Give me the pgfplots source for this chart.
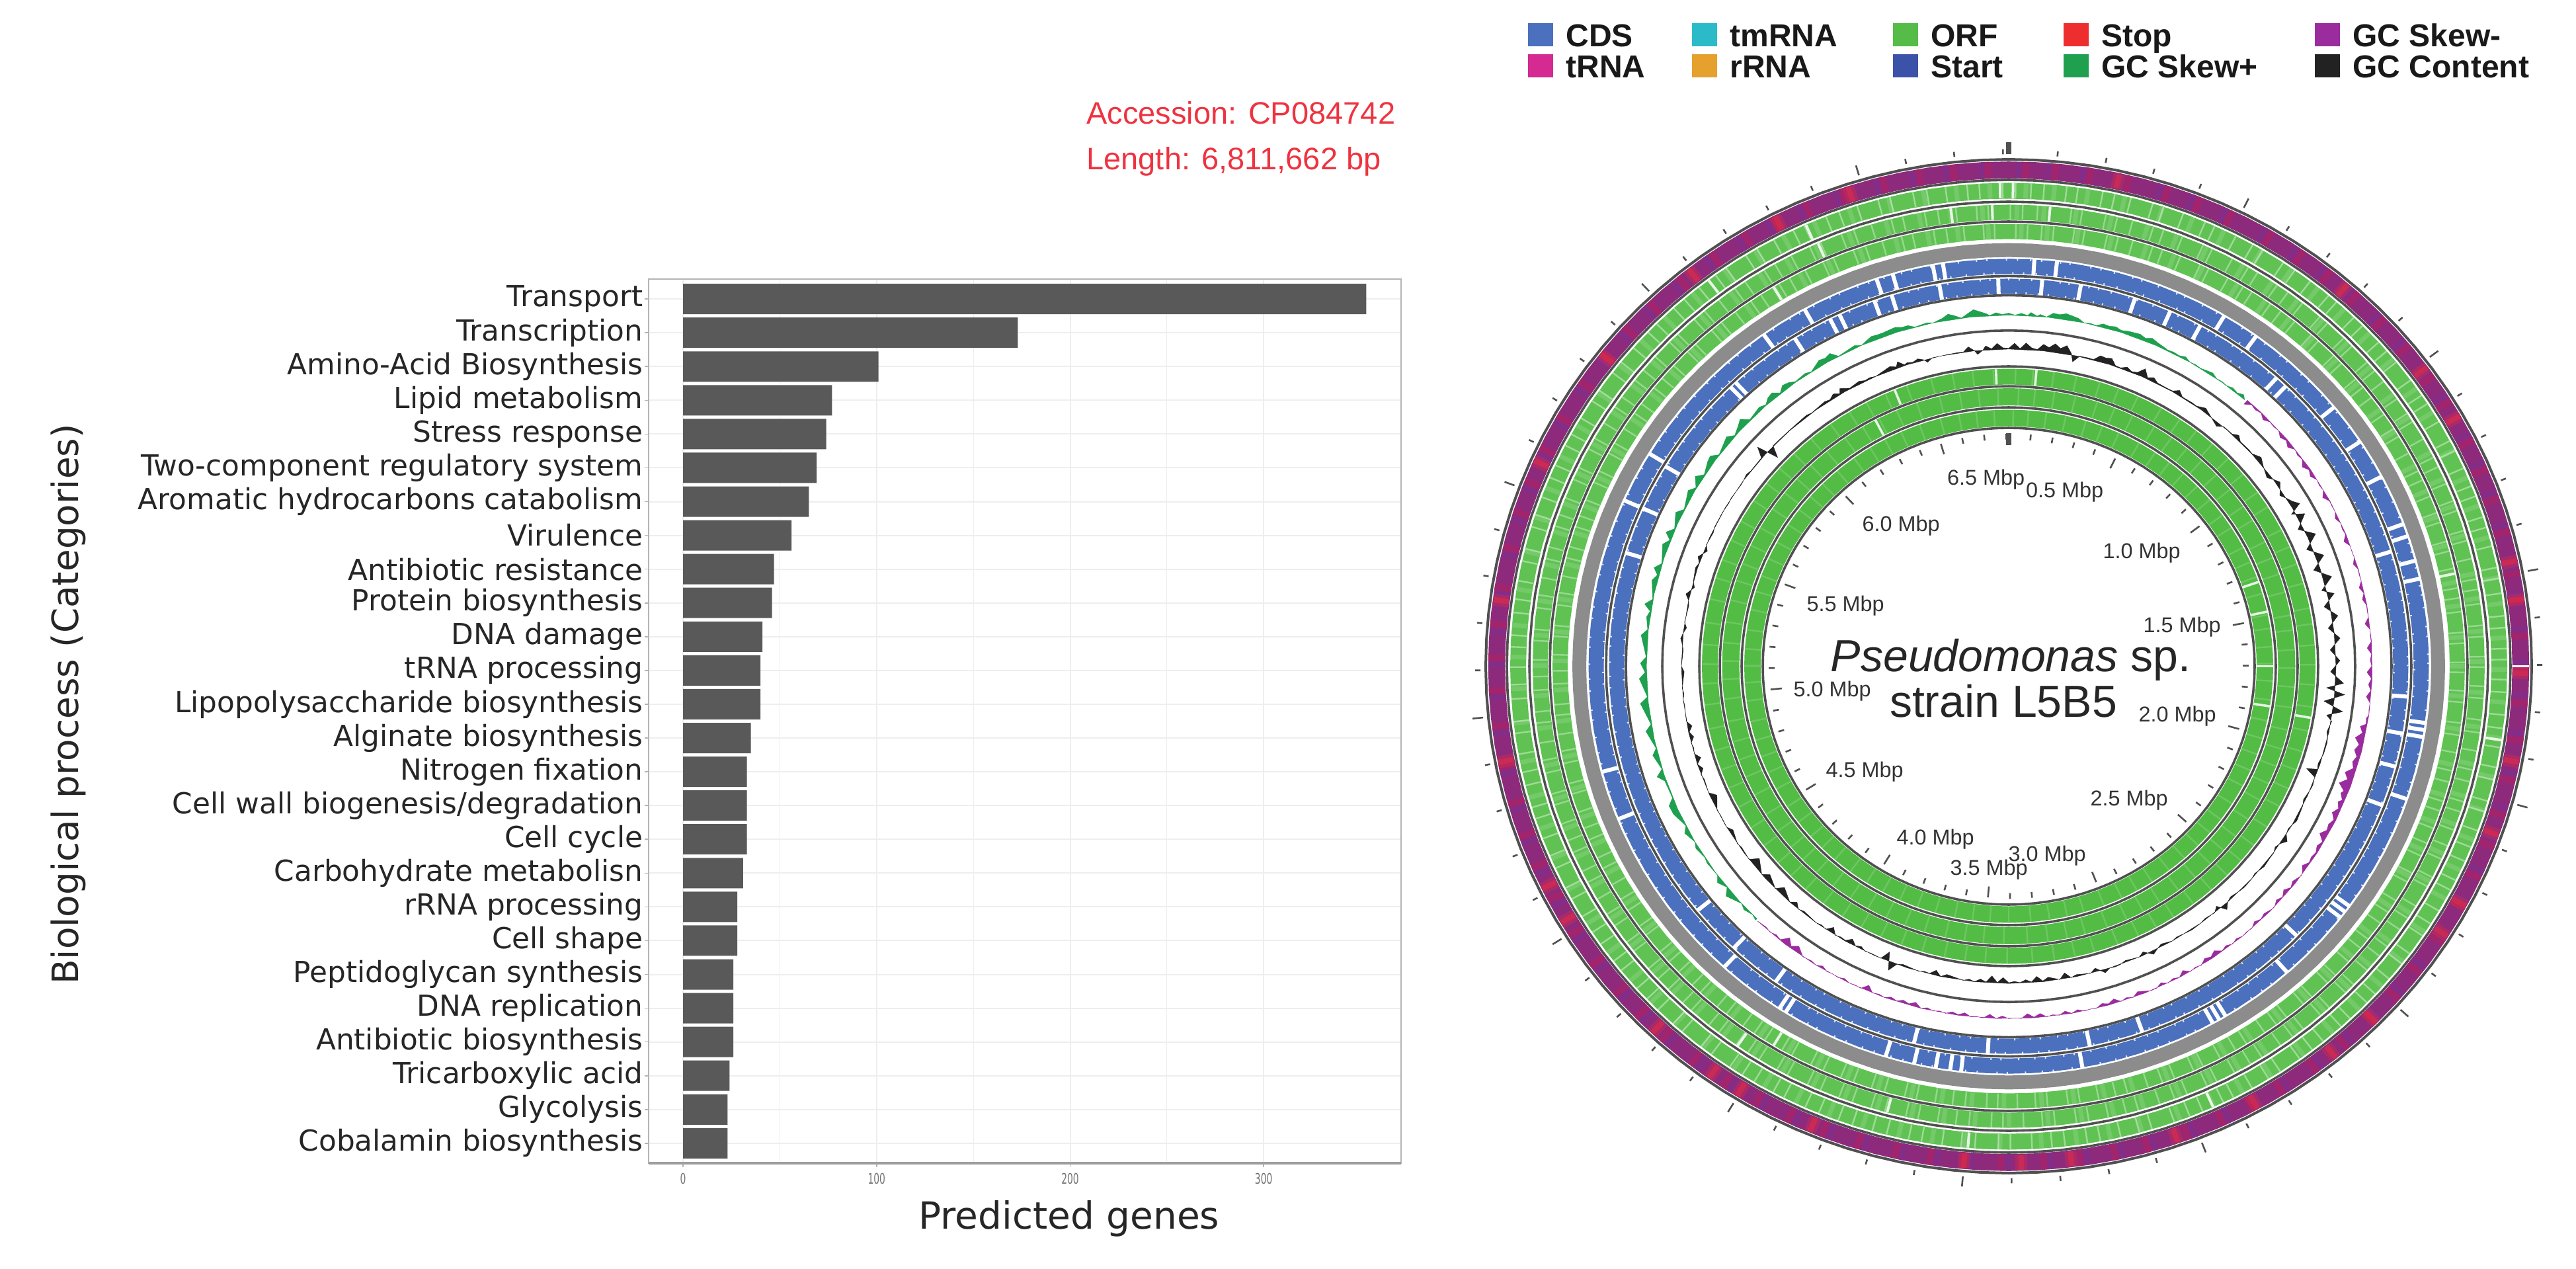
\documentclass[border=0pt]{standalone}
\usepackage{fontspec}
\usepackage{pgfplots}
\usepackage{pgfplotstable}
\pgfplotsset{compat=1.18}
\setmainfont{DejaVu Sans}
\newfontfamily\arial{Liberation Sans}

\definecolor{barg}{HTML}{595959}
\definecolor{gridg}{HTML}{EEEEEE}
\definecolor{boxg}{HTML}{B4B4B4}
\definecolor{lineg}{HTML}{505050}
\definecolor{ringg}{HTML}{8C8C8C}
\definecolor{orfa}{HTML}{60C253}
\definecolor{orfb}{HTML}{53BC45}
\definecolor{cds}{HTML}{4A70BE}
\definecolor{tmrna}{HTML}{2BBBC8}
\definecolor{orf}{HTML}{55BC48}
\definecolor{stopc}{HTML}{EE2E2E}
\definecolor{trna}{HTML}{D42A92}
\definecolor{rrna}{HTML}{E5A02E}
\definecolor{startc}{HTML}{3B52A8}
\definecolor{skewp}{HTML}{1EA04E}
\definecolor{skewm}{HTML}{9A2C9E}
\definecolor{gcc}{HTML}{222222}
\definecolor{redt}{HTML}{EE3340}
\definecolor{ringp}{HTML}{8E2A7C}
\definecolor{ringv}{HTML}{6F35A5}
\definecolor{ringm}{HTML}{B3205F}
\definecolor{ringr}{HTML}{E02A45}

% angles of the closed rings, clockwise from the top
\pgfplotstableread[row sep=\\]{a\\0\\3\\6\\9\\12\\15\\18\\21\\24\\27\\30\\33\\36\\39\\42\\45\\48\\51\\54\\57\\60\\63\\66\\69\\72\\75\\78\\81\\84\\87\\90\\93\\96\\99\\102\\105\\108\\111\\114\\117\\120\\123\\126\\129\\132\\135\\138\\141\\144\\147\\150\\153\\156\\159\\162\\165\\168\\171\\174\\177\\180\\183\\186\\189\\192\\195\\198\\201\\204\\207\\210\\213\\216\\219\\222\\225\\228\\231\\234\\237\\240\\243\\246\\249\\252\\255\\258\\261\\264\\267\\270\\273\\276\\279\\282\\285\\288\\291\\294\\297\\300\\303\\306\\309\\312\\315\\318\\321\\324\\327\\330\\333\\336\\339\\342\\345\\348\\351\\354\\357\\360\\363\\}\angles

% pale stripes in the ORF rings
\pgfplotstableread[row sep=\\]{a\\0.8\\2.6\\4.1\\6.7\\8.0\\10.9\\12.3\\14.2\\16.8\\18.1\\20.5\\23.2\\24.4\\27.1\\29.3\\30.6\\33.4\\35.0\\37.2\\39.9\\41.1\\43.8\\45.2\\47.9\\49.3\\51.0\\53.7\\55.9\\57.1\\59.6\\62.2\\63.5\\65.8\\68.1\\69.4\\72.0\\73.3\\75.6\\78.2\\79.5\\81.3\\84.0\\85.4\\87.9\\89.2\\91.6\\93.1\\95.8\\97.4\\99.7\\102.1\\103.6\\106.2\\107.5\\109.9\\112.0\\113.8\\116.3\\117.6\\120.4\\122.2\\123.9\\126.5\\128.0\\130.3\\132.7\\134.1\\136.8\\138.2\\140.9\\142.5\\144.3\\147.0\\148.6\\150.8\\153.2\\154.5\\157.1\\158.7\\160.6\\163.3\\164.8\\167.0\\169.4\\170.9\\173.5\\175.0\\177.3\\179.8\\181.2\\183.9\\185.5\\187.7\\190.1\\191.6\\194.2\\195.9\\198.3\\200.0\\202.4\\204.1\\206.8\\208.2\\210.7\\212.3\\214.0\\216.6\\218.1\\220.9\\222.3\\224.7\\226.5\\228.2\\231.0\\232.4\\234.9\\236.6\\238.8\\241.2\\242.7\\245.3\\246.9\\249.1\\251.6\\253.0\\255.7\\257.3\\259.5\\262.0\\263.4\\266.1\\267.8\\269.9\\272.3\\273.7\\276.4\\278.0\\280.2\\282.6\\284.1\\286.8\\288.3\\290.5\\293.0\\294.6\\297.2\\298.7\\300.9\\303.3\\304.8\\307.4\\309.0\\311.2\\313.7\\315.1\\317.8\\319.4\\321.6\\324.0\\325.5\\328.2\\329.7\\331.9\\334.4\\335.8\\338.5\\340.1\\342.3\\344.8\\346.2\\348.9\\350.5\\352.7\\355.2\\356.6\\359.3\\}\stripes

% bright gaps, ring by ring
\pgfplotstableread[row sep=\\]{a\\359\\0.5\\98.8\\155.8\\184.7\\323\\336\\}\gapsix
\pgfplotstableread[row sep=\\]{a\\5\\358\\353\\336.4\\194.8\\214.7\\}\gapfive
\pgfplotstableread[row sep=\\]{a\\329\\77.9\\211\\}\gapfour
\pgfplotstableread[row sep=\\]{a\\100\\357.6\\5.2\\338.2\\}\gapthree
\pgfplotstableread[row sep=\\]{a\\332.3\\}\gaptwo
\pgfplotstableread[row sep=\\]{a\\99\\77.7\\70.8\\90\\}\gapone
\pgfplotstableread[row sep=\\]{a\\3.5\\6.6\\30.8\\36\\50.6\\56.6\\62.3\\69.6\\71.4\\75\\77.6\\98\\99\\100\\109\\126\\127\\128\\138.6\\149\\150\\151\\169.9\\186.5\\188\\190\\193\\197\\212\\213\\222.5\\248\\255\\294\\301.4\\324.4\\331\\341.7\\344\\349.6\\351\\}\gapcdsb
\pgfplotstableread[row sep=\\]{a\\358.5\\4.8\\10.4\\18.4\\23.8\\28.6\\42\\43.8\\72.8\\94.5\\100\\105\\111\\134\\160.5\\168.3\\183\\193.7\\215.6\\223.4\\231\\287\\294\\301\\316\\317\\327.7\\333.5\\335\\340.4\\343\\350\\}\gapcdsa
\pgfplotstableread[row sep=\\]{a\\12.3\\40.7\\53.6\\60.2\\77.9\\82.3\\90.8\\101\\109.6\\118.4\\122.4\\135\\141\\151.4\\161\\173\\178.6\\185\\202.5\\211.5\\215.2\\223.3\\239.4\\243.8\\259\\277.6\\294.1\\308.3\\322\\333.3\\342\\}\redpatch

% tick marks of the two scales, 0.1 Mbp apart
\pgfplotstableread[row sep=\\]{a\\5.29\\10.57\\15.86\\21.14\\31.71\\37\\42.28\\47.57\\58.14\\63.42\\68.71\\73.99\\84.56\\89.85\\95.13\\100.42\\110.99\\116.27\\121.56\\126.84\\137.41\\142.7\\147.98\\153.27\\163.84\\169.12\\174.41\\179.69\\190.26\\195.55\\200.83\\206.12\\216.69\\221.97\\227.26\\232.54\\243.11\\248.4\\253.68\\258.97\\269.54\\274.82\\280.11\\285.39\\295.96\\301.25\\306.53\\311.82\\322.39\\327.67\\332.96\\338.24\\348.81\\354.1\\359.38\\}\minorticks
\pgfplotstableread[row sep=\\]{a\\26.43\\52.85\\79.28\\105.7\\132.13\\158.55\\184.98\\211.4\\237.83\\264.25\\290.68\\317.1\\343.53\\}\majorticks
\pgfplotstableread[row sep=\\]{a\\0\\}\zerotick

% GC content around its base line, then back along the base line
\pgfplotstableread[row sep=\\]{a h\\0 1\\1 9\\2 1\\3 10\\4 3\\5 1\\6 10\\7 6\\8 13\\9 7\\10 13\\11 2\\11.5 -10\\12.5 0.5\\14 1\\15 0.5\\16 9\\17 8\\18 10\\19 1\\20 0.5\\21 5\\22 1\\23 3\\24 13\\25 2\\26 6\\27 1\\29 0.5\\30 1\\31 7\\32 0.5\\34 1\\35 0.5\\36.5 6\\38 0.5\\40 -6\\41 0.5\\43 0.5\\44 6\\45 0.5\\47 1\\48 0.5\\49.5 7\\51 0.5\\53 -6\\54 0.5\\55 6\\56 0\\57 -6\\58 0\\59 5\\60 13\\61 -6\\62 12\\64 -8\\66 13\\68 -9\\70 12\\72 -10\\74 13\\76 -7\\77 10\\79 -9\\81 9\\83 -8\\85 8\\87 -8\\89 6\\91 -8\\93 12\\94 -13\\95 15\\96.5 -15\\98 15\\99 -8\\100 1\\102 -3\\103 0\\104 1\\106 0.5\\108 -3\\109 -1\\109.5 -17\\110.5 -1\\112 1\\113 0\\115 -3\\116 0\\117 1\\119 3\\120 0\\121 -2\\122 0\\123 7\\124 0\\125 -3\\126 0.5\\127 0.5\\129 2\\130 0\\131 -2\\132 0\\134 1\\135 0\\137 -3\\138 0\\139 8\\140 -6\\141 0\\143 -2\\144 0\\146 1\\147 0\\149 -2\\150 0\\152 -4\\153 0\\154 5\\155.5 -5\\156.5 0\\159 -3\\160 0\\161 1\\162 0\\163 5\\164.5 -6\\165.5 0\\168 -3\\169 0\\170 -9\\171 0\\173 -6\\174 -1\\175 -9\\176 -1\\177 -5\\178 -1\\179 -3\\180 -1\\181 -9\\182 -1\\183 -11\\184 -1\\185 -5\\186 0\\187 -3\\188 0\\191 -5\\192 0\\193 -8\\194 -1\\195 -2\\196 0\\199 -3\\200 0\\201 13\\202 -14\\203 0\\205 -1\\206 0\\207 -4\\208 -1\\209 -8\\210 -1\\211 -2\\212 0\\213 -9\\214 0\\215 -2\\216 0\\219 -3\\220 0\\221 -7\\222 0\\224.5 -11\\225.5 0\\228 -9\\229 0\\231.5 -13\\232.5 0\\235 -2\\236 0\\238.5 -6\\239.5 0\\242 -1\\243 0\\245.5 -10\\246.5 0\\249 -2\\250 0\\251 -6\\252 0\\253 -8\\254 0\\255 -2\\256 0\\257 -6\\258 -1\\259 -7\\260 0\\263 -1\\264 0\\265 -2\\266 0\\269 -4\\270 0\\273 -2\\274 0\\275 3\\276 0\\277 -4\\278 0\\281 -2\\282 0\\283 6\\284.5 -4\\285.5 0\\288 3\\289 0\\290 5\\291.5 -5\\292.5 0\\295 -2\\296 0\\299 0\\301 -1\\302 0\\305 -1\\306 0\\307 2\\308 0\\311 0.5\\312 16\\313 -17\\314 0.5\\318 0.5\\322 2\\323 0\\326 3\\327 1\\328 6\\329 1\\329.5 8\\331 1\\333 4\\334 1\\335 2\\336 0\\339 6\\340 2\\340.5 9\\341.5 1\\342 3\\343 1\\344 4\\345 0\\345.5 -5\\346.5 0\\349 0\\351 0.5\\352 0\\353 7\\354 0\\354.5 -6\\355.5 0\\356 6\\357 1\\358 9\\359 2\\360 1\\360 0\\354 0\\348 0\\342 0\\336 0\\330 0\\324 0\\318 0\\312 0\\306 0\\300 0\\294 0\\288 0\\282 0\\276 0\\270 0\\264 0\\258 0\\252 0\\246 0\\240 0\\234 0\\228 0\\222 0\\216 0\\210 0\\204 0\\198 0\\192 0\\186 0\\180 0\\174 0\\168 0\\162 0\\156 0\\150 0\\144 0\\138 0\\132 0\\126 0\\120 0\\114 0\\108 0\\102 0\\96 0\\90 0\\84 0\\78 0\\72 0\\66 0\\60 0\\54 0\\48 0\\42 0\\36 0\\30 0\\24 0\\18 0\\12 0\\6 0\\0 0\\}\gccontent

% GC skew+, outward
\pgfplotstableread[row sep=\\]{a h\\-136 3\\-135 0\\-133.5 4\\-132.5 0\\-130 10\\-129 0\\-127.5 7\\-126.5 0\\-124 2\\-123 0\\-121 4\\-120 0\\-118 7\\-117 0\\-114.5 9\\-113 10\\-112 0.5\\-109 2\\-108 11\\-107 0.5\\-104.5 8\\-103.5 0.5\\-100.5 10\\-99.5 0.5\\-96 12\\-95 0.5\\-92 11\\-91 2\\-89.5 9\\-88.5 0.5\\-85 10\\-84 1\\-82 5\\-81 1\\-80 11\\-79 0.5\\-76 8\\-75 2\\-74 10\\-73 0.5\\-70 9\\-69 1\\-68 11\\-67 1\\-64.5 10\\-63.5 0.5\\-60.5 9\\-59.5 1\\-58 11\\-57 1\\-55 8\\-54 10\\-53 0.5\\-50 9\\-49 1\\-47.5 7\\-46.5 12\\-45.5 1\\-43 5\\-42 1\\-41 7\\-40 9\\-39 1\\-38 8\\-37 6\\-36 1\\-34 3\\-33 0\\-31 9\\-30 7\\-29 10\\-28 0\\-25 4\\-24 0\\-22 7\\-21 6\\-20 6\\-19 7\\-18 8\\-17 5\\-16 5\\-15 0\\-13 2\\-12 0\\-10.5 4\\-9.5 9\\-8.5 5\\-7.5 0\\-5.5 11\\-4.5 7\\-3.5 3\\-3 0\\-2 4\\-1 1\\0 3\\1 0\\2 3\\3 0\\3.5 5\\4.5 0\\5 3\\6 0\\7 7\\8 6\\9 9\\10 7\\11 5\\12 0\\13 1\\14 0\\15 5\\16 4\\17 6\\18 3\\19 5\\20 6\\21 7\\22 4\\23 8\\24 5\\25 3\\26 1\\27 2\\28 1\\29 4\\30 0\\31 1\\32 0\\33 2\\34 4\\35 0\\36 1\\37 0\\38 3\\39 1\\40 5\\40.6 0\\36 0\\30 0\\24 0\\18 0\\12 0\\6 0\\0 0\\-6 0\\-12 0\\-18 0\\-24 0\\-30 0\\-36 0\\-42 0\\-48 0\\-54 0\\-60 0\\-66 0\\-72 0\\-78 0\\-84 0\\-90 0\\-96 0\\-102 0\\-108 0\\-114 0\\-120 0\\-126 0\\-132 0\\-136 0\\}\skewplus

% GC skew-, inward
\pgfplotstableread[row sep=\\]{a h\\41 8\\42 1\\43 3\\44 0.5\\45 6\\46 1\\47 2\\48 0.5\\49 6\\50 2\\51 7\\52 0.5\\53 3\\54 1\\55 8\\56 2\\57 6\\58 0.5\\59 2\\60 0.5\\61 7\\62 0.5\\63 1\\64 0.5\\65 5\\66 0.5\\67 2\\68 0.5\\69 7\\70 0.5\\71 1\\72 0.5\\73 5\\74 0.5\\75 1\\76 0.5\\77 6\\78 1\\79 5\\80 0.5\\81 1\\82 0.5\\83 7\\84 0.5\\85 1\\86 0.5\\87 7\\88 1\\89 3\\90 1\\91 8\\92 1\\93 5\\94 1\\95 7\\96 0.5\\97 1\\98 0\\98.5 3\\99.5 2\\100 10\\101 5\\102 14\\103 6\\104 11\\105 5\\106 9\\107 5\\108 15\\109 8\\110 18\\111 7\\111.5 10\\112.5 4\\113 9\\114 4\\115 10\\116 3\\117 7\\118 5\\119 12\\120 2\\121 6\\122 2\\123 4\\124 2\\125 8\\126 1\\126.5 0\\128 5\\129 1\\130 7\\131 1\\132 5\\133 0\\133.5 0\\135 4\\136 1\\137 5\\138 0\\139 1\\140 0\\141 3\\142 0\\143 4\\144 1\\145 8\\146 3\\147 6\\148 0\\149 2\\150 0\\151 7\\152 0\\153 3\\154 0\\155 5\\156 0\\157 0\\159 6\\160 0\\161 3\\162 0\\163 7\\164 2\\165 5\\166 0\\167 1\\168 0\\169 4\\170 0\\171 5\\172 0\\173 2\\174 0\\175 6\\176 1\\177 7\\178 0\\179 1\\180 0\\181 4\\182 0\\183 6\\184 0\\185 1\\186 0\\187 5\\188 1\\189 4\\190 0\\191 2\\192 0\\193 3\\194 0\\195 7\\196 2\\197 5\\198 1\\199 4\\200 0\\201 2\\202 0\\203 9\\204 0\\205 1\\206 0\\207 3\\208 0\\209 1\\210 0\\211 4\\212 0\\213 2\\214.5 0\\216 10\\217 3\\218 12\\219 1\\220 3\\221 0\\222 2\\223.7 0\\218 0\\212 0\\206 0\\200 0\\194 0\\188 0\\182 0\\176 0\\170 0\\164 0\\158 0\\152 0\\146 0\\140 0\\134 0\\128 0\\122 0\\116 0\\110 0\\104 0\\98 0\\92 0\\86 0\\80 0\\74 0\\68 0\\62 0\\56 0\\50 0\\44 0\\41 0\\}\skewminus

\newcommand{\ring}[3]{\addplot[no markers, line width=#2, color=#3] table[x index=0, y index=0, x expr={#1*sin(\thisrow{a})}, y expr={#1*cos(\thisrow{a})}] {\angles};}
\newcommand{\spokes}[5]{\addplot[#1, no markers, quiver={u={(#4-#3)*sin(\thisrow{a}+#5)}, v={(#4-#3)*cos(\thisrow{a}+#5)}}] table[x index=0, y index=0, x expr={#3*sin(\thisrow{a}+#5)}, y expr={#3*cos(\thisrow{a}+#5)}] {#2};}

\begin{document}
\begin{tikzpicture}
\useasboundingbox (0,0) rectangle (1948pt,959pt);

% bar chart
\begin{axis}[
  at={(490.5pt,79.5pt)}, anchor=south west,
  scale only axis, width=569pt, height=668.5pt,
  xbar, bar width=23pt, bar shift=0pt,
  xmin=-17.8, xmax=371,
  ymin=-0.59, ymax=25.59,
  xtick={0,100,200,300},
  minor x tick num=1,
  ytick={0,1,...,25},
  yticklabels={Cobalamin biosynthesis,Glycolysis,Tricarboxylic acid,Antibiotic biosynthesis,DNA replication,Peptidoglycan synthesis,Cell shape,rRNA processing,Carbohydrate metabolisn,Cell cycle,Cell wall biogenesis/degradation,Nitrogen fixation,Alginate biosynthesis,Lipopolysaccharide biosynthesis,tRNA processing,DNA damage,Protein biosynthesis,Antibiotic resistance,Virulence,Aromatic hydrocarbons catabolism,Two-component regulatory system,Stress response,Lipid metabolism,Amino-Acid Biosynthesis,Transcription,Transport},
  tick align=outside, major tick length=3.2pt, minor tick length=0pt,
  xtick pos=lower, ytick pos=left,
  tick style={color=boxg, line width=0.8pt},
  axis line style={color=boxg, line width=1pt},
  xmajorgrids, xminorgrids, ymajorgrids,
  major grid style={color=gridg, line width=1pt},
  minor grid style={color=gridg, line width=0.6pt},
  /pgf/number format/assume math mode=true,
  xticklabel style={font=\fontsize{11}{12}\selectfont, xscale=0.63, text=black!55, yshift=-1pt},
  yticklabel style={font=\fontsize{21.9}{24}\selectfont, text=black!85, inner sep=0pt, xshift=-1pt},
]
\addplot[fill=barg, draw=none] coordinates {
(23,0) (23,1) (24,2) (26,3) (26,4) (26,5) (28,6) (28,7) (31,8) (33,9) (33,10) (33,11) (35,12)
(40,13) (40,14) (41,15) (46,16) (47,17) (56,18) (65,19) (69,20) (74,21) (77,22) (101,23) (173,24) (353,25)};
\end{axis}
\draw[color=black!38, line width=1.6pt] (490.5pt,79.5pt) -- (1059.5pt,79.5pt);

% circular genome map, x in pixels from the centre, y in pixels/0.969
\begin{axis}[
  at={(1075pt,0pt)}, anchor=south west,
  scale only axis, width=873pt, height=959pt,
  hide axis, clip=false,
  xmin=-888, xmax=858,
  ymin=-939.6, ymax=1039.7,
  disabledatascaling,
]
\ring{774.5}{12.8pt}{ringp}
\spokes{color=ringv, opacity=0.3, line width=4pt, each nth point=2}{\stripes}{762}{787}{0.3}
\spokes{color=ringm, opacity=0.55, line width=5pt, each nth point=2}{\stripes}{762}{787}{1.1}
\spokes{color=ringr, opacity=0.35, line width=9pt}{\redpatch}{763}{786}{0}
\spokes{color=ringr, opacity=0.6, line width=4pt}{\redpatch}{763}{786}{0}
\addplot[color=white, line width=1.2pt, no markers] coordinates {(762,0) (787,0)};

\ring{742}{12pt}{orfa}
\ring{708.5}{11.5pt}{orfa}
\ring{678.5}{11.5pt}{orfa}
\spokes{color=white, opacity=0.13, line width=3.5pt, each nth point=2}{\stripes}{730}{754}{1.2}
\spokes{color=white, opacity=0.13, line width=3.5pt, each nth point=2}{\stripes}{697}{720}{0.2}
\spokes{color=white, opacity=0.13, line width=3.5pt, each nth point=2}{\stripes}{667}{690}{0.8}
\spokes{color=white, opacity=0.4, line width=1.2pt}{\stripes}{730}{754}{0}
\spokes{color=white, opacity=0.35, line width=1.2pt}{\stripes}{697}{720}{0.9}
\spokes{color=white, opacity=0.35, line width=1.2pt}{\stripes}{667}{690}{1.6}
\spokes{color=white, opacity=0.85, line width=2pt}{\gapsix}{730}{754}{0}
\spokes{color=white, opacity=0.85, line width=2pt}{\gapfive}{697}{720}{0}
\spokes{color=white, opacity=0.85, line width=2pt}{\gapfour}{667}{690}{0}

\ring{649.5}{10.5pt}{ringg}

\ring{624}{11.5pt}{cds}
\ring{593}{11.5pt}{cds}
\spokes{color=white, opacity=0.8, line width=1pt}{\stripes}{633}{637}{0.4}
\spokes{color=white, opacity=0.8, line width=1pt}{\stripes}{611}{615}{1.3}
\spokes{color=white, opacity=0.8, line width=1pt}{\stripes}{602}{606}{0.7}
\spokes{color=white, opacity=0.8, line width=1pt}{\stripes}{580}{584}{1.8}
\spokes{color=white, line width=3pt}{\gapcdsb}{611}{637}{0}
\spokes{color=white, line width=3pt}{\gapcdsa}{580}{606}{0}

\ring{452}{12pt}{orfb}
\ring{420.5}{13pt}{orfb}
\ring{387.5}{12.5pt}{orfb}
\spokes{color=white, opacity=0.16, line width=1.2pt, each nth point=2}{\stripes}{440}{464}{0.5}
\spokes{color=white, opacity=0.16, line width=1.2pt, each nth point=2}{\stripes}{407}{434}{1.2}
\spokes{color=white, opacity=0.16, line width=1.2pt, each nth point=2}{\stripes}{375}{400}{0.2}
\spokes{color=white, opacity=0.85, line width=1.8pt}{\gapthree}{440}{464}{0}
\spokes{color=white, opacity=0.85, line width=1.8pt}{\gaptwo}{407}{434}{0}
\spokes{color=white, opacity=0.85, line width=1.8pt}{\gapone}{375}{400}{0}

% black circles between the tracks
\ring{372}{1.8pt}{lineg}
\ring{404}{1.8pt}{lineg}
\ring{437}{1.8pt}{lineg}
\ring{468}{1.8pt}{lineg}
\ring{524}{1.8pt}{lineg}
\ring{579}{1.8pt}{lineg}
\ring{609}{1.8pt}{lineg}
\ring{694}{1.8pt}{lineg}
\ring{725}{1.8pt}{lineg}
\ring{759}{1.8pt}{lineg}
\ring{791}{2pt}{lineg}

% GC tracks
\addplot[fill=skewp, draw=skewp, line width=0.25pt] table[x index=0, y index=1, x expr={(548+\thisrow{h})*sin(\thisrow{a})}, y expr={(548+\thisrow{h})*cos(\thisrow{a})}] {\skewplus};
\addplot[fill=skewm, draw=skewm, line width=0.25pt] table[x index=0, y index=1, x expr={(550-\thisrow{h})*sin(\thisrow{a})}, y expr={(550-\thisrow{h})*cos(\thisrow{a})}] {\skewminus};
\addplot[fill=gcc, draw=gcc, line width=0.25pt] table[x index=0, y index=1, x expr={(495+\thisrow{h})*sin(\thisrow{a})}, y expr={(495+\thisrow{h})*cos(\thisrow{a})}] {\gccontent};

% scale ticks
\spokes{color=lineg, line width=1.3pt}{\minorticks}{799}{807}{0}
\spokes{color=lineg, line width=1.3pt}{\majorticks}{799}{815}{0}
\spokes{color=lineg, line width=4pt}{\zerotick}{799}{818}{0}
\spokes{color=lineg, line width=1.3pt}{\minorticks}{354}{363}{0}
\spokes{color=lineg, line width=1.3pt}{\majorticks}{345}{362}{0}
\spokes{color=lineg, line width=4pt}{\zerotick}{345}{364}{0}
\end{axis}

% texts and legend, in the pixels of the reference
\begin{scope}[x=0.5pt, y=-0.5pt, shift={(0pt,959pt)}]
\node[rotate=90, anchor=base, inner sep=0pt, text=black!85, font=\fontsize{27.4}{30}\selectfont] at (118,1065) {Biological process (Categories)};
\node[anchor=base, inner sep=0pt, text=black!85, font=\fontsize{28.3}{30}\selectfont] at (1617,1858) {Predicted genes};

\node[anchor=base west, inner sep=0pt, text=redt, font=\arial\fontsize{23.5}{26}\selectfont] at (1643,188) {Accession: CP084742};
\node[anchor=base west, inner sep=0pt, text=redt, font=\arial\fontsize{23.5}{26}\selectfont] at (1643,257) {Length: 6,811,662 bp};

\node[anchor=base, inner sep=0pt, text=black!85, font=\arial\fontsize{34}{36}\selectfont] at (3041,1016) {\textit{Pseudomonas} sp.};
\node[anchor=base, inner sep=0pt, text=black!85, font=\arial\fontsize{34}{36}\selectfont] at (3030,1085) {strain L5B5};

\foreach \lab/\px/\py in {6.5/3003.6/733.7, 0.5/3122.6/753, 6.0/2875/804, 1.0/3239/845, 5.5/2791/925, 1.5/3300/957, 5.0/2771/1054, 2.0/3293/1092, 4.5/2820/1175.5, 2.5/3220/1219, 4.0/2927/1277.5, 3.0/3096/1303, 3.5/3008/1323.5}
  \node[anchor=base, inner sep=0pt, text=black!80, font=\arial\fontsize{16.2}{18}\selectfont] at (\px,\py) {\lab{} Mbp};

\foreach \col/\sx/\ty/\lab in {cds/2311/71/CDS, tmrna/2559/71/tmRNA, orf/2863/71/ORF, stopc/3121/71/Stop, skewm/3501/71/GC Skew-, trna/2311/118/tRNA, rrna/2559/118/rRNA, startc/2863/118/Start, skewp/3121/118/GC Skew+, gcc/3501/118/GC Content} {
  \fill[color=\col] (\sx,\ty-36) rectangle (\sx+38,\ty-1);
  \node[anchor=base west, inner sep=0pt, text=black!90, font=\arial\bfseries\fontsize{24}{26}\selectfont] at (\sx+57,\ty) {\lab};
}
\end{scope}
\end{tikzpicture}
\end{document}
